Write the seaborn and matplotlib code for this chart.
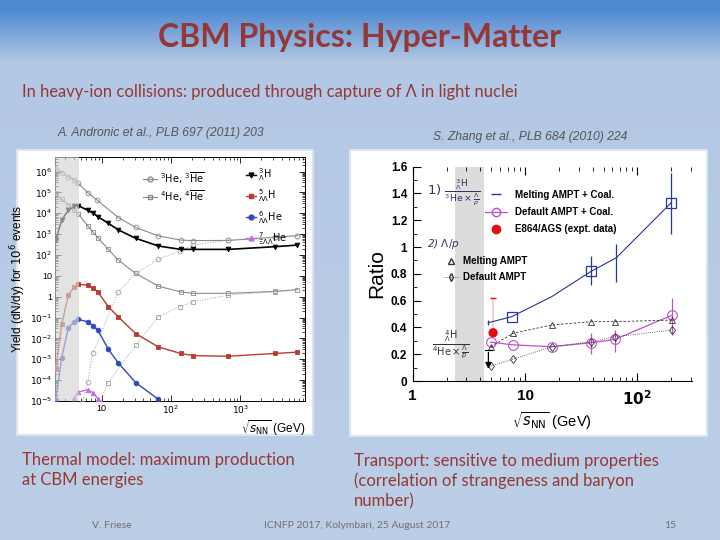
import numpy as np
import matplotlib
matplotlib.use("Agg")
import matplotlib.pyplot as plt
import seaborn as sns
from matplotlib.patches import Rectangle
from matplotlib.lines import Line2D
from matplotlib.ticker import FixedLocator, FuncFormatter, LogLocator, NullFormatter, MultipleLocator

# ---- left panel: thermal model yields vs sqrt(s_NN) (GeV)
he3_e = [2.17, 2.65, 3.3, 4.04, 4.6, 6.3, 8.5, 17.4, 31, 66, 138, 210, 676, 3160, 6700]
he3_y = [1.4e6, 9e5, 5.7e5, 4e5, 2.7e5, 9.8e4, 4.4e4, 6.2e3, 2.1e3, 820, 520, 490, 500, 700, 850]
he4_e = [2.17, 2.65, 3.3, 4.04, 4.6, 6.3, 7.6, 8.8, 12.5, 17.4, 31, 66, 138, 210, 676, 3160, 6700]
he4_y = [9e4, 4.7e4, 2.5e4, 1.4e4, 9e3, 2.5e3, 1.2e3, 680, 186, 57, 13, 3.2, 1.7, 1.45, 1.45, 1.8, 2.2]
ahe3_e = [5.2, 6.3, 7.4, 17.4, 31, 66, 135, 210, 676, 3160, 6700]
ahe3_y = [8e-6, 8e-5, 1.9e-3, 1.7, 13, 62, 160, 300, 520, 760, 850]
ahe4_e = [9.5, 12.2, 31, 66, 135, 210, 676, 3160, 6700]
ahe4_y = [8e-6, 7.4e-5, 4.8e-3, 0.11, 0.33, 0.57, 1.2, 1.7, 2.1]
h3l_e = [2.17, 2.65, 3.3, 4.04, 4.6, 6.3, 7.6, 8.8, 12.5, 17.4, 31, 66, 138, 210, 676, 3160, 6700]
h3l_y = [520, 4.8e3, 1.4e4, 2.2e4, 2.3e4, 1.4e4, 1e4, 6.9e3, 3.3e3, 1.6e3, 630, 270, 186, 186, 186, 250, 300]
h5ll_e = [2.17, 2.65, 3.3, 4.04, 4.6, 6.3, 7.6, 8.8, 12.5, 17.4, 31, 66, 138, 210, 676, 3160, 6700]
h5ll_y = [3.5e-4, 0.047, 1.2, 3.0, 3.9, 3.6, 2.5, 1.7, 0.33, 0.107, 0.017, 3.9e-3, 1.9e-3, 1.5e-3, 1.4e-3, 1.9e-3, 2.2e-3]
he6ll_e = [2.17, 2.65, 3.3, 4.04, 4.6, 6.3, 7.6, 8.8, 12.5, 17.4, 31, 66, 138]
he6ll_y = [1.1e-5, 1.2e-3, 0.032, 0.063, 0.081, 0.063, 0.039, 0.025, 3e-3, 6.6e-4, 7.6e-5, 1.2e-5, 1e-6]
he7xll_e = [3.3, 4.04, 4.6, 6.3, 7.6, 8.8, 12.5]
he7xll_y = [2e-6, 1.4e-5, 2.7e-5, 3.5e-5, 2.4e-5, 1.3e-5, 1e-6]

# ---- right panel: transport ratios vs sqrt(s_NN) (GeV)
mcoal_e = [4.7, 7.6, 17.3, 39, 65, 200]
mcoal_y = [0.435, 0.48, 0.63, 0.82, 0.92, 1.33]
mcoal_lo = [0.02, 0.0, 0.0, 0.10, 0.18, 0.23]
mcoal_hi = [0.02, 0.0, 0.0, 0.11, 0.10, 0.22]
dcoal_e = [4.95, 7.8, 17.3, 39, 63, 202]
dcoal_y = [0.29, 0.27, 0.256, 0.286, 0.31, 0.49]
dcoal_lo = [0.0, 0.0, 0.0, 0.086, 0.09, 0.15]
dcoal_hi = [0.0, 0.0, 0.0, 0.074, 0.07, 0.13]
e864_e = [5.2]
e864_y = [0.36]
e864_hi = [0.26]
mampt_e = [4.95, 7.8, 17.3, 39, 63, 202]
mampt_y = [0.256, 0.356, 0.418, 0.443, 0.443, 0.455]
dampt_e = [4.95, 7.8, 17.3, 39, 63, 202]
dampt_y = [0.112, 0.162, 0.256, 0.294, 0.33, 0.38]
ulim_e = [4.72]
ulim_y = [0.235]

RED = "#953735"
W, H = 720, 540


def fx(px):
    return px / W


def fy(py):
    return 1 - py / H


fig = plt.figure(figsize=(7.2, 5.4), dpi=100)

# slide background gradient
bg = fig.add_axes([0, 0, 1, 1], zorder=-10)
rows = np.arange(H)
top = np.array([0x4d, 0x88, 0xd2]) / 255
mid = np.array([0xb3, 0xc8, 0xe4]) / 255
bot = np.array([0xbc, 0xcf, 0xe7]) / 255
grad = np.zeros((H, 1, 3))
for i in rows:
    if i < 8:
        c = top
    elif i < 62:
        t = (i - 8) / 54
        c = top * (1 - t) + mid * t
    else:
        t = (i - 62) / (H - 62)
        c = mid * (1 - t) + bot * t
    grad[i, 0] = c
bg.imshow(grad, aspect="auto", extent=[0, 1, 0, 1])
bg.axis("off")

# white panels behind the two plots
for (x0, y0, x1, y1) in [(17, 150, 313, 435), (350, 150, 707, 436)]:
    fig.patches.append(Rectangle((fx(x0), fy(y1)), fx(x1 - x0), (y1 - y0) / H,
                                 transform=fig.transFigure, facecolor="white",
                                 edgecolor="#dbe4f1", lw=1.5, zorder=-5))

# slide texts
fig.text(0.5, fy(38), "CBM Physics: Hyper-Matter", family="Lato", weight="bold",
         fontsize=23, color=RED, ha="center", va="center")
fig.text(fx(22), fy(92), "In heavy-ion collisions: produced through capture of Λ in light nuclei",
         family="Lato", fontsize=11.9, color=RED, ha="left", va="center")
fig.text(fx(58), fy(133), "A. Andronic et al., PLB 697 (2011) 203", family="Liberation Sans",
         style="italic", fontsize=8.7, color="#555555", ha="left", va="center")
fig.text(fx(433), fy(137), "S. Zhang et al., PLB 684 (2010) 224", family="Liberation Sans",
         style="italic", fontsize=8.7, color="#555555", ha="left", va="center")
fig.text(fx(22), fy(470), "Thermal model: maximum production\nat CBM energies", family="Lato",
         fontsize=12, color=RED, ha="left", va="center", linespacing=1.3)
fig.text(fx(354), fy(481), "Transport: sensitive to medium properties\n(correlation of strangeness and baryon\nnumber)",
         family="Lato", fontsize=12, color=RED, ha="left", va="center", linespacing=1.3)
fig.text(fx(112), fy(525), "V. Friese", family="Lato", fontsize=7.5, color="#707070", ha="center", va="center")
fig.text(fx(357), fy(525), "ICNFP 2017, Kolymbari, 25 August 2017", family="Lato", fontsize=7.5,
         color="#707070", ha="center", va="center")
fig.text(fx(670), fy(525), "15", family="Lato", fontsize=7.5, color="#707070", ha="center", va="center")

# ================= left plot =================
axL = fig.add_axes([fx(55), fy(401), fx(250), 244 / H])
axL.set_xscale("log")
axL.set_yscale("log")
GRAY = "#8a8a8a"
styles = [
    (he3_e, he3_y, GRAY, "o", "none", "-", 0.8),
    (he4_e, he4_y, GRAY, "s", "none", "-", 0.8),
    (ahe3_e, ahe3_y, "#a0a0a0", "o", "none", ":", 0.7),
    (ahe4_e, ahe4_y, "#a0a0a0", "s", "none", ":", 0.7),
    (h3l_e, h3l_y, "black", "v", "black", "-", 1.2),
    (h5ll_e, h5ll_y, "#b83a30", "s", "#b83a30", "-", 1.0),
    (he6ll_e, he6ll_y, "#2f48c0", "o", "#2f48c0", "-", 1.0),
    (he7xll_e, he7xll_y, "#c070e0", "^", "#c070e0", "-", 1.0),
]
for e, y, c, m, mfc, ls, lw in styles:
    sns.lineplot(x=e, y=y, ax=axL, color=c, marker=m, markersize=3.4, markerfacecolor=mfc,
                 markeredgecolor=c, markeredgewidth=0.6, linestyle=ls, linewidth=lw,
                 errorbar=None, legend=False, sort=False, zorder=3)
axL.axvspan(2.0, 4.75, color="#d4d4d4", alpha=0.65, lw=0, zorder=4)
axL.set_xlim(2.12, 8600)
axL.set_ylim(1e-5, 5e6)


def yfmt(v, pos):
    n = int(round(np.log10(v)))
    if n == 0:
        return "1"
    if n == 1:
        return "10"
    return r"$10^{%d}$" % n


axL.yaxis.set_major_locator(FixedLocator([10.0 ** k for k in range(-5, 7)]))
axL.yaxis.set_major_formatter(FuncFormatter(yfmt))
axL.yaxis.set_minor_locator(LogLocator(base=10, subs=np.arange(2, 10), numticks=30))
axL.yaxis.set_minor_formatter(NullFormatter())
axL.xaxis.set_major_locator(FixedLocator([10, 100, 1000]))
axL.xaxis.set_major_formatter(FuncFormatter(lambda v, p: {10: "10", 100: r"$10^2$", 1000: r"$10^3$"}.get(int(round(v)), "")))
axL.xaxis.set_minor_locator(LogLocator(base=10, subs=np.arange(2, 10), numticks=30))
axL.xaxis.set_minor_formatter(NullFormatter())
axL.tick_params(which="both", direction="in", top=True, right=True, labelsize=6.5, pad=2)
axL.tick_params(which="major", length=4, width=0.6)
axL.tick_params(which="minor", length=2, width=0.5)
for s in axL.spines.values():
    s.set_linewidth(0.7)
for lab in axL.get_xticklabels() + axL.get_yticklabels():
    lab.set_family("Liberation Sans")
axL.set_ylabel(r"Yield (dN/dy) for $10^{6}$ events", family="Liberation Sans", fontsize=8.5, labelpad=1)
axL.set_xlabel(r"$\sqrt{s_{\rm NN}}$ (GeV)", family="Liberation Sans", fontsize=8.5, labelpad=1)
axL.xaxis.set_label_coords(1.0, -0.07)
axL.xaxis.label.set_ha("right")

hL1 = [Line2D([], [], color=GRAY, marker="o", mfc="none", ms=3.5, lw=0.8),
       Line2D([], [], color=GRAY, marker="s", mfc="none", ms=3.5, lw=0.8)]
leg1 = axL.legend(hL1, [r"$^{3}$He, $^{3}\overline{\rm He}$", r"$^{4}$He, $^{4}\overline{\rm He}$"],
                  loc="upper left", bbox_to_anchor=(0.33, 0.97), frameon=False, fontsize=7,
                  handlelength=1.4, handletextpad=0.3, labelspacing=0.3, borderpad=0.1)
axL.add_artist(leg1)
hL2 = [Line2D([], [], color="black", marker="v", ms=3.5, lw=1),
       Line2D([], [], color="#b83a30", marker="s", ms=3.5, lw=1),
       Line2D([], [], color="#2f48c0", marker="o", ms=3.5, lw=1),
       Line2D([], [], color="#c070e0", marker="^", ms=3.5, lw=1)]
axL.legend(hL2, [r"$^{3}_{\Lambda}$H", r"$^{5}_{\Lambda\Lambda}$H", r"$^{6}_{\Lambda\Lambda}$He",
                 r"$^{7}_{\Xi\Lambda\Lambda}$He"],
           loc="upper left", bbox_to_anchor=(0.74, 0.985), frameon=False, fontsize=7,
           handlelength=1.0, handletextpad=0.3, labelspacing=0.45, borderpad=0.1)

# ================= right plot =================
axR = fig.add_axes([fx(412.7), fy(381), fx(279), 214.3 / H])
axR.set_xscale("log")
BLUE = "#27379a"
MAG = "#c050c8"
DARK = "#333333"
axR.axvspan(2.38, 4.35, color="#dcdcdc", lw=0, zorder=0)

sns.lineplot(x=mcoal_e, y=mcoal_y, ax=axR, color=BLUE, lw=0.8, marker="s", markersize=7,
             markerfacecolor="none", markeredgecolor=BLUE, markeredgewidth=0.9, markevery=[1, 3, 5],
             errorbar=None, legend=False, sort=False, zorder=3)
axR.errorbar(mcoal_e, mcoal_y, yerr=[mcoal_lo, mcoal_hi], fmt="none", ecolor=BLUE, elinewidth=0.9, zorder=3)
sns.lineplot(x=dcoal_e, y=dcoal_y, ax=axR, color=MAG, lw=0.9, marker="o", markersize=7,
             markerfacecolor="none", markeredgecolor=MAG, markeredgewidth=0.8, errorbar=None,
             legend=False, sort=False, zorder=3)
axR.errorbar(dcoal_e, dcoal_y, yerr=[dcoal_lo, dcoal_hi], fmt="none", ecolor=MAG, elinewidth=0.9, zorder=3)
sns.lineplot(x=mampt_e, y=mampt_y, ax=axR, color=DARK, lw=0.6, linestyle=(0, (3, 2)), marker="^",
             markersize=5, markerfacecolor="none", markeredgecolor=DARK, markeredgewidth=0.6,
             errorbar=None, legend=False, sort=False, zorder=3)
sns.lineplot(x=dampt_e, y=dampt_y, ax=axR, color=DARK, lw=0.6, linestyle=":", marker="d",
             markersize=4.5, markerfacecolor="none", markeredgecolor=DARK, markeredgewidth=0.6,
             errorbar=None, legend=False, sort=False, zorder=3)
sns.scatterplot(x=e864_e, y=e864_y, ax=axR, color="#e01010", s=45, edgecolor="none", legend=False, zorder=4)
axR.errorbar(e864_e, e864_y, yerr=[[0], e864_hi], fmt="none", ecolor="#e01010", elinewidth=0.3,
             capsize=2, zorder=3)
for e, y in zip(ulim_e, ulim_y):
    axR.annotate("", xy=(e, 0.07), xytext=(e, y),
                 arrowprops=dict(arrowstyle="-|>", color="black", lw=0.9, mutation_scale=9), zorder=5)
    axR.plot([e * 0.93, e * 1.07], [y, y], color="black", lw=0.9, zorder=5)

axR.set_xlim(1, 305)
axR.set_ylim(0, 1.6)
axR.xaxis.set_major_locator(FixedLocator([1, 10, 100]))
axR.xaxis.set_major_formatter(FuncFormatter(lambda v, p: {1: "1", 10: "10", 100: r"$\mathbf{10^2}$"}.get(int(round(v)), "")))
axR.xaxis.set_minor_locator(LogLocator(base=10, subs=np.arange(2, 10), numticks=30))
axR.xaxis.set_minor_formatter(NullFormatter())
axR.yaxis.set_major_locator(MultipleLocator(0.2))
axR.yaxis.set_minor_locator(MultipleLocator(0.1))
axR.yaxis.set_major_formatter(FuncFormatter(lambda v, p: "0" if abs(v) < 1e-9 else ("1" if abs(v - 1) < 1e-9 else f"{v:.1f}")))
axR.spines["top"].set_visible(False)
axR.spines["right"].set_visible(False)
axR.tick_params(which="both", direction="in", top=True, right=False, pad=4)
axR.tick_params(which="major", length=6, width=0.8)
axR.tick_params(which="minor", length=3, width=0.6)
axR.tick_params(axis="x", which="major", labelsize=11, pad=6)
axR.tick_params(axis="y", which="major", labelsize=8.5)
for lab in axR.get_xticklabels() + axR.get_yticklabels():
    lab.set_family("Liberation Sans")
    lab.set_weight("bold")
axR.set_ylabel("Ratio", family="Liberation Sans", fontsize=15, labelpad=3)
axR.set_xlabel(r"$\sqrt{s_{\rm NN}}$ (GeV)", family="Liberation Sans", fontsize=10.5, labelpad=2)

hR1 = [Line2D([], [], color=BLUE, marker="_", ms=7, lw=0),
       Line2D([], [], color=MAG, marker="o", mfc="none", ms=6, lw=0.9),
       Line2D([], [], color="#e01010", marker="o", ms=6, lw=0)]
legR1 = axR.legend(hR1, ["Melting AMPT + Coal.", "Default AMPT + Coal.", "E864/AGS (expt. data)"],
                   loc="upper left", bbox_to_anchor=(0.24, 0.92), frameon=False,
                   prop=dict(family="Liberation Sans", weight="bold", size=7),
                   handlelength=2.2, handletextpad=0.8, labelspacing=0.75, borderpad=0.1)
axR.add_artist(legR1)
hR2 = [Line2D([], [], color=DARK, marker="^", mfc="none", ms=4.5, lw=0),
       Line2D([], [], color=DARK, marker="d", mfc="none", ms=4, lw=0.6, linestyle=":")]
axR.legend(hR2, ["Melting AMPT", "Default AMPT"], loc="upper left", bbox_to_anchor=(0.09, 0.61),
           frameon=False, prop=dict(family="Liberation Sans", weight="bold", size=7),
           handlelength=1.6, handletextpad=0.4, labelspacing=0.6, borderpad=0.1)
axR.text(0.05, 0.88, r"1) $\frac{{}^{3}_{\Lambda}\mathrm{H}}{{}^{3}\mathrm{He}\times\frac{\Lambda}{p}}$",
         transform=axR.transAxes, fontsize=9.5, color="#333366", ha="left", va="center")
axR.text(0.05, 0.64, r"2) $\Lambda/p$", transform=axR.transAxes, fontsize=7.5, color="#333366",
         ha="left", va="center", style="italic")
axR.text(0.07, 0.17, r"$\frac{{}^{4}_{\Lambda}\mathrm{H}}{{}^{4}\mathrm{He}\times\frac{\Lambda}{p}}$",
         transform=axR.transAxes, fontsize=10, color=DARK, ha="left", va="center")

fig.savefig("out.png", dpi=100)
